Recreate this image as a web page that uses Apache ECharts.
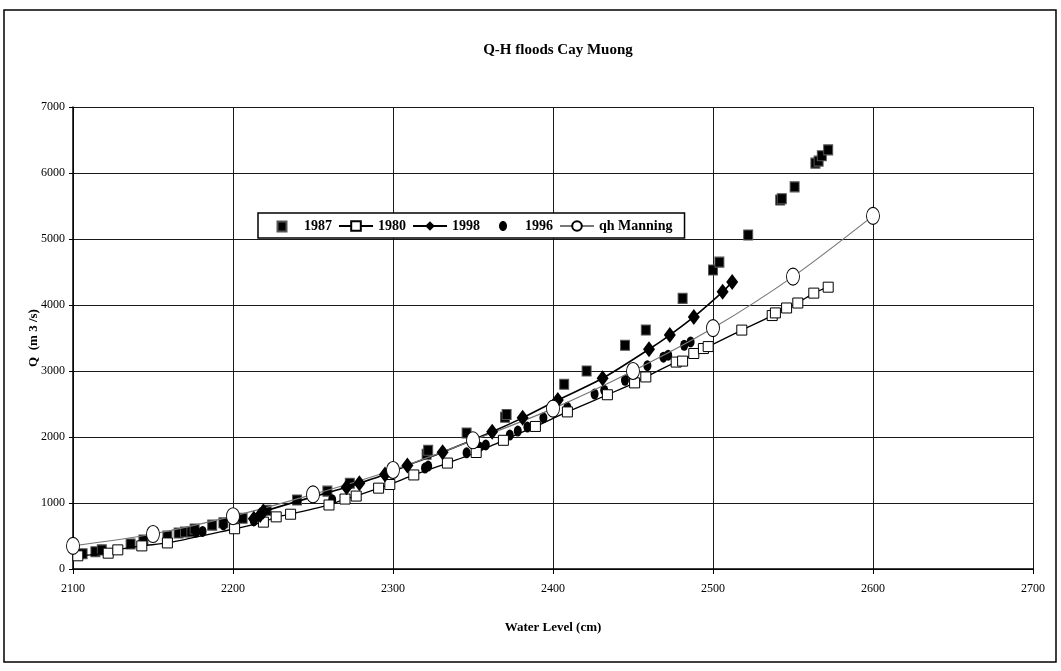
<!DOCTYPE html>
<html>
<head>
<meta charset="utf-8">
<style>
  html, body { margin: 0; padding: 0; background: #fff; }
  #chart { width: 1061px; height: 671px; }
</style>
<script src="https://cdn.jsdelivr.net/npm/echarts@6/dist/echarts.min.js"></script>
</head>
<body>
<div id="chart"></div>
<script>
// Water level (cm) vs discharge Q (m3/s) for each flood year
const flood1987 = [
  [2106,230],[2114,260],[2118,290],[2136,380],[2144,440],[2159,500],[2166,545],[2170,560],
  [2174,565],[2176,605],[2187,665],[2194,700],[2206,770],[2221,890],[2240,1045],[2259,1180],
  [2273,1300],[2321,1740],[2322,1800],[2346,2060],[2370,2300],[2371,2340],[2407,2800],
  [2421,3000],[2445,3390],[2458,3620],[2481,4100],[2500,4530],[2504,4650],[2522,5060],
  [2542,5590],[2543,5610],[2551,5790],[2564,6150],[2566,6180],[2568,6260],[2572,6350]
];
const flood1980 = [
  [2103,200],[2122,240],[2128,290],[2143,350],[2159,395],[2201,610],[2219,710],[2227,790],
  [2236,830],[2260,970],[2270,1060],[2277,1105],[2291,1225],[2298,1280],[2313,1425],
  [2334,1605],[2352,1765],[2369,1950],[2389,2160],[2409,2380],[2434,2640],[2451,2820],
  [2458,2910],[2477,3135],[2481,3150],[2488,3265],[2494,3340],[2497,3370],[2518,3620],
  [2537,3840],[2539,3880],[2546,3955],[2553,4030],[2563,4180],[2572,4270]
];
const flood1998 = [
  [2213,760],[2217,820],[2219,870],[2271,1240],[2279,1300],[2295,1430],[2309,1570],
  [2331,1770],[2362,2080],[2381,2290],[2403,2560],[2431,2890],[2460,3330],[2473,3545],
  [2488,3820],[2506,4200],[2512,4350]
];
const flood1996 = [
  [2177,560],[2181,570],[2194,670],[2213,730],[2262,1050],[2320,1530],[2322,1560],
  [2346,1760],[2354,1850],[2358,1880],[2373,2030],[2378,2090],[2384,2150],[2394,2290],
  [2409,2450],[2426,2650],[2432,2710],[2445,2860],[2459,3080],[2469,3210],[2472,3240],
  [2482,3390],[2486,3440]
];
const qhManning = [
  [2100,350],[2150,530],[2200,800],[2250,1130],[2300,1500],[2350,1950],[2400,2430],
  [2450,3000],[2500,3650],[2550,4430],[2600,5350]
];
const seriesNames = ['1987', '1980', '1998', '1996', 'qh Manning'];

const serif = '"Liberation Serif", "DejaVu Serif", serif';
// legend glyphs for the marker-only series: a small shape centred in a wide box
const squareIcon = 'path://M0,0M34,12M12.5,1.5h9v10h-9z';
const dotIcon = 'path://M0,0M34,12M17,1c2.2,0 4,2.2 4,5s-1.8,5 -4,5s-4,-2.2 -4,-5s1.8,-5 4,-5z';
const plain = v => String(v);

const chart = echarts.init(document.getElementById('chart'));

chart.setOption({
  animation: false,
  backgroundColor: '#fff',
  graphic: [{
    type: 'rect',
    shape: { x: 4, y: 10, width: 1052, height: 652 },
    style: { fill: 'none', stroke: '#000', lineWidth: 1.5 },
    z: -1
  }],
  title: {
    text: 'Q-H floods Cay Muong',
    left: 553, top: 38, textAlign: 'center',
    textStyle: { fontFamily: serif, fontWeight: 'bold', fontSize: 15, color: '#000' }
  },
  legend: {
    data: [
      { name: seriesNames[0], icon: squareIcon },
      { name: seriesNames[1] },
      { name: seriesNames[2] },
      { name: seriesNames[3], icon: dotIcon },
      { name: seriesNames[4] }
    ],
    left: 258, top: 213,
    padding: [6, 12, 5, 6],
    itemWidth: 34, itemHeight: 12, itemGap: 6,
    backgroundColor: '#fff', borderColor: '#000', borderWidth: 1.5,
    textStyle: { fontFamily: serif, fontWeight: 'bold', fontSize: 14, color: '#000' }
  },
  grid: { left: 73, right: 28, top: 107, bottom: 102 },
  xAxis: {
    type: 'value', min: 2100, max: 2700, interval: 100,
    name: 'Water Level (cm)', nameLocation: 'middle', nameGap: 52,
    nameMoveOverlap: false,
    nameTextStyle: { fontFamily: serif, fontWeight: 'bold', fontSize: 13, color: '#000' },
    axisLine: { lineStyle: { color: '#000', width: 1.5 } },
    axisTick: { show: true, length: 5, lineStyle: { color: '#000' } },
    axisLabel: { fontFamily: serif, fontSize: 12, color: '#000', margin: 14, formatter: plain },
    splitLine: { lineStyle: { color: '#1a1a1a', width: 1 } }
  },
  yAxis: {
    type: 'value', min: 0, max: 7000, interval: 1000,
    name: 'Q  (m 3 /s)', nameLocation: 'middle', nameGap: 33, nameRotate: 90,
    nameMoveOverlap: false,
    nameTextStyle: { fontFamily: serif, fontWeight: 'bold', fontSize: 13, color: '#000' },
    axisLine: { show: true, lineStyle: { color: '#000', width: 1.5 } },
    axisTick: { show: true, length: 4, lineStyle: { color: '#000' } },
    axisLabel: { fontFamily: serif, fontSize: 12, color: '#000', margin: 8, formatter: plain },
    splitLine: { lineStyle: { color: '#1a1a1a', width: 1 } }
  },
  series: [
    {
      name: '1987', type: 'scatter', data: flood1987,
      symbol: 'rect', symbolSize: [9, 10],
      itemStyle: { color: '#000', opacity: 1, borderColor: '#555', borderWidth: 1 }
    },
    {
      name: '1980', type: 'line', data: flood1980, smooth: 0.3,
      symbol: 'rect', symbolSize: 10, showAllSymbol: true,
      lineStyle: { color: '#000', width: 1.3 },
      itemStyle: { color: '#fff', borderColor: '#000', borderWidth: 1 }
    },
    {
      name: '1998', type: 'line', data: flood1998, smooth: 0.3,
      symbol: 'diamond', symbolSize: [12, 16], showAllSymbol: true,
      lineStyle: { color: '#000', width: 1.6 },
      itemStyle: { color: '#000', borderColor: '#000', borderWidth: 0 }
    },
    {
      name: '1996', type: 'scatter', data: flood1996,
      symbol: 'circle', symbolSize: [8, 11],
      itemStyle: { color: '#000', opacity: 1 }
    },
    {
      name: 'qh Manning', type: 'line', data: qhManning, smooth: 0.3,
      symbol: 'circle', symbolSize: [13, 17], showAllSymbol: true,
      lineStyle: { color: '#777', width: 1.2 },
      itemStyle: { color: '#fff', borderColor: '#000', borderWidth: 1 },
      z: 3
    }
  ]
});
</script>
</body>
</html>
